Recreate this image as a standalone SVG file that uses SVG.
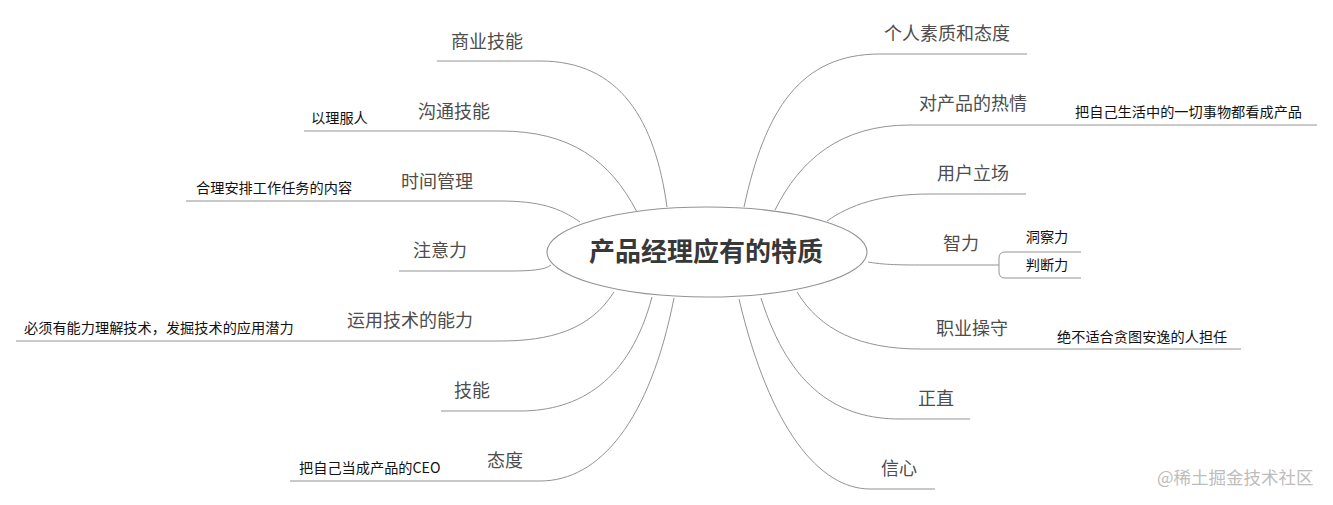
<svg xmlns="http://www.w3.org/2000/svg" width="1333" height="505" viewBox="0 0 1333 505">
<style>
.conn{fill:none;stroke:#939393;stroke-width:1}
.lbl{font-family:"Noto Sans CJK SC","Microsoft YaHei",sans-serif;font-size:18px;fill:#4d4d4d;text-anchor:middle}
.sub{font-family:"Noto Sans CJK SC",sans-serif;font-size:14.2px;fill:#111}
.title{font-family:"Noto Sans CJK SC",sans-serif;font-size:26px;font-weight:bold;fill:#383838;text-anchor:middle}
.wm{font-family:"Noto Sans CJK SC",sans-serif;font-size:17.5px;fill:#bdbdbd}
</style>
<rect width="1333" height="505" fill="#fff"/>
<g id="connectors">
<path class="conn" d="M667,207 C655,120 620,61 540,61 H437"/>
<path class="conn" d="M637,212 C610,160 570,131 500,131 H304"/>
<path class="conn" d="M580,222 C560,208 540,201 500,201 H186"/>
<path class="conn" d="M551,265 C545,270 530,271 510,271 H399"/>
<path class="conn" d="M614,292 C590,330 550,341 500,341 H16"/>
<path class="conn" d="M652,297 C630,380 580,411 520,411 H441"/>
<path class="conn" d="M674,298 C650,420 600,481 540,481 H290"/>
<path class="conn" d="M744,207 C765,110 800,54 880,54 H1027"/>
<path class="conn" d="M775,210 C800,160 840,125 910,125 H1317"/>
<path class="conn" d="M827,221 C850,205 880,194 930,194 H1026"/>
<path class="conn" d="M868,262 C880,264 890,265 920,265 H999"/>
<path class="conn" d="M1081,252 H1005 Q999,252 999,258 V272 Q999,278 1005,278 H1081"/>
<path class="conn" d="M797,292 C820,330 860,349 920,349 H1241"/>
<path class="conn" d="M761,298 C790,390 840,419 900,419 H970"/>
<path class="conn" d="M739,299 C770,430 820,489 870,489 H935"/>
</g>
<g id="center">
<ellipse cx="707" cy="252" rx="160" ry="45" fill="#fff" stroke="#939393" stroke-width="1.1"/>
<text class="title" x="706" y="261">产品经理应有的特质</text>
</g>
<g id="n-shangye"><text class="lbl" x="487" y="48">商业技能</text></g>
<g id="n-goutong"><text class="lbl" x="454" y="118">沟通技能</text><text class="sub" x="311" y="123">以理服人</text></g>
<g id="n-shijian"><text class="lbl" x="437" y="188">时间管理</text><text class="sub" x="196" y="193">合理安排工作任务的内容</text></g>
<g id="n-zhuyi"><text class="lbl" x="440" y="257">注意力</text></g>
<g id="n-yunyong"><text class="lbl" x="410" y="327">运用技术的能力</text><text class="sub" x="24" y="333">必须有能力理解技术，发掘技术的应用潜力</text></g>
<g id="n-jineng"><text class="lbl" x="472" y="397">技能</text></g>
<g id="n-taidu"><text class="lbl" x="505" y="467">态度</text><text class="sub" x="299" y="473">把自己当成产品的CEO</text></g>
<g id="n-geren"><text class="lbl" x="947" y="40">个人素质和态度</text></g>
<g id="n-reqing"><text class="lbl" x="973" y="110">对产品的热情</text><text class="sub" x="1075" y="117">把自己生活中的一切事物都看成产品</text></g>
<g id="n-yonghu"><text class="lbl" x="973" y="180">用户立场</text></g>
<g id="n-zhili"><text class="lbl" x="961" y="250">智力</text><text class="sub" x="1047" y="242" text-anchor="middle">洞察力</text><text class="sub" x="1047" y="270" text-anchor="middle">判断力</text></g>
<g id="n-zhiye"><text class="lbl" x="972" y="335">职业操守</text><text class="sub" x="1057" y="342">绝不适合贪图安逸的人担任</text></g>
<g id="n-zhengzhi"><text class="lbl" x="936" y="405">正直</text></g>
<g id="n-xinxin"><text class="lbl" x="899" y="475">信心</text></g>
<text class="wm" x="1157" y="484">@稀土掘金技术社区</text>
</svg>
